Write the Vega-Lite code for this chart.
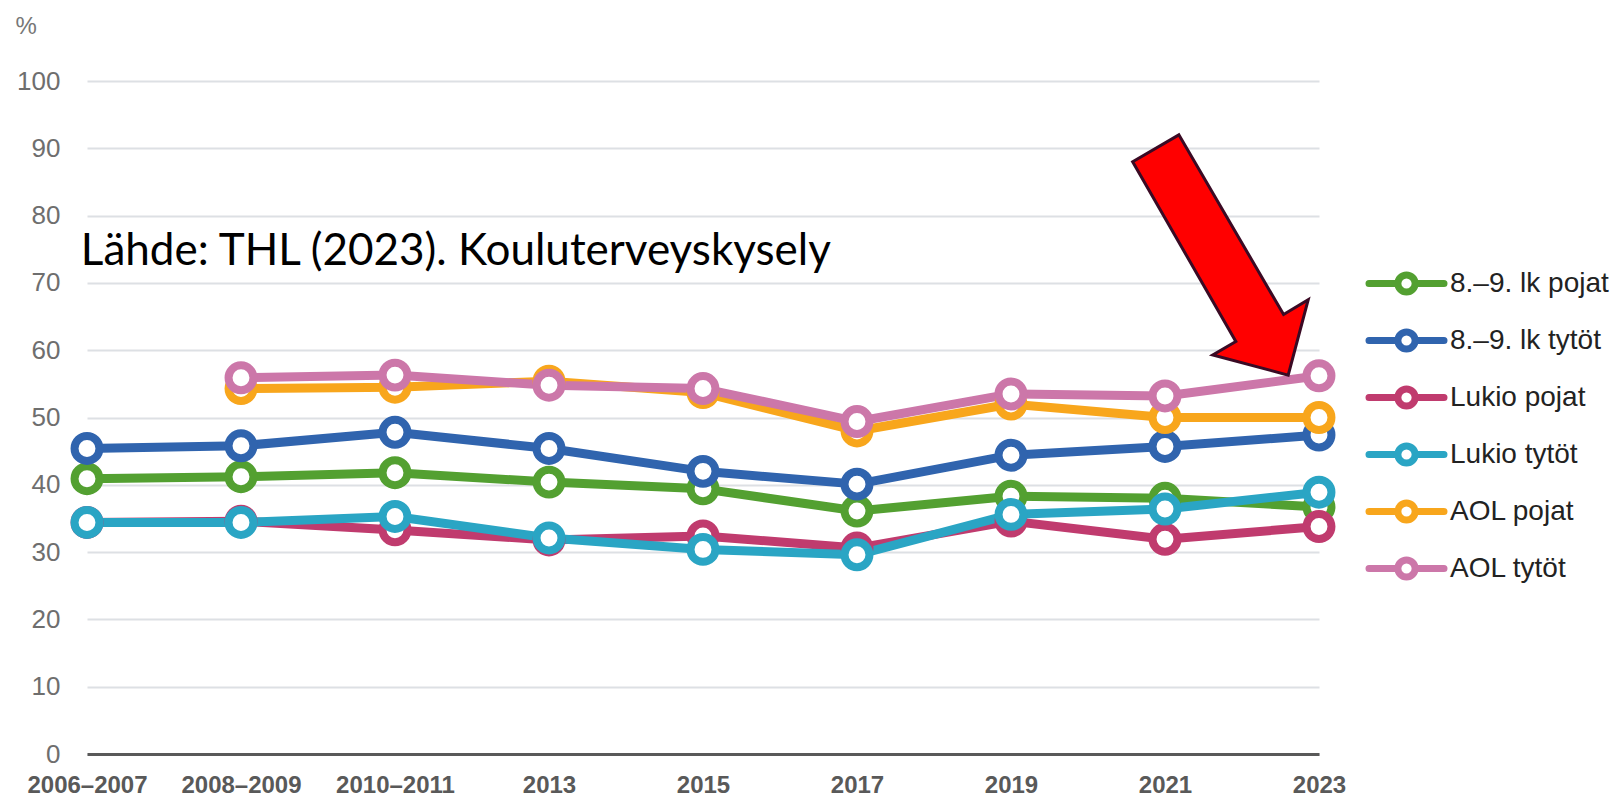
{
  "$schema": "https://vega.github.io/schema/vega-lite/v6.json",
  "width": 1232,
  "height": 673,
  "autosize": {"type": "none"},
  "padding": {"left": 87, "top": 81, "right": 305, "bottom": 42},
  "background": "white",
  "config": {
    "view": {"stroke": null},
    "font": "Liberation Sans"
  },
  "datasets": {
    "main": [
      {"period": "2006–2007", "series": "8.–9. lk pojat", "value": 40.9},
      {"period": "2008–2009", "series": "8.–9. lk pojat", "value": 41.2},
      {"period": "2010–2011", "series": "8.–9. lk pojat", "value": 41.8},
      {"period": "2013", "series": "8.–9. lk pojat", "value": 40.4},
      {"period": "2015", "series": "8.–9. lk pojat", "value": 39.4},
      {"period": "2017", "series": "8.–9. lk pojat", "value": 36.1},
      {"period": "2019", "series": "8.–9. lk pojat", "value": 38.3},
      {"period": "2021", "series": "8.–9. lk pojat", "value": 38.0},
      {"period": "2023", "series": "8.–9. lk pojat", "value": 36.7},
      {"period": "2006–2007", "series": "8.–9. lk tytöt", "value": 45.4},
      {"period": "2008–2009", "series": "8.–9. lk tytöt", "value": 45.8},
      {"period": "2010–2011", "series": "8.–9. lk tytöt", "value": 47.8},
      {"period": "2013", "series": "8.–9. lk tytöt", "value": 45.4},
      {"period": "2015", "series": "8.–9. lk tytöt", "value": 42.0},
      {"period": "2017", "series": "8.–9. lk tytöt", "value": 40.1},
      {"period": "2019", "series": "8.–9. lk tytöt", "value": 44.4},
      {"period": "2021", "series": "8.–9. lk tytöt", "value": 45.7},
      {"period": "2023", "series": "8.–9. lk tytöt", "value": 47.4},
      {"period": "2006–2007", "series": "Lukio pojat", "value": 34.4},
      {"period": "2008–2009", "series": "Lukio pojat", "value": 34.6},
      {"period": "2010–2011", "series": "Lukio pojat", "value": 33.3},
      {"period": "2013", "series": "Lukio pojat", "value": 31.8},
      {"period": "2015", "series": "Lukio pojat", "value": 32.4},
      {"period": "2017", "series": "Lukio pojat", "value": 30.6},
      {"period": "2019", "series": "Lukio pojat", "value": 34.6},
      {"period": "2021", "series": "Lukio pojat", "value": 31.9},
      {"period": "2023", "series": "Lukio pojat", "value": 33.8},
      {"period": "2006–2007", "series": "Lukio tytöt", "value": 34.4},
      {"period": "2008–2009", "series": "Lukio tytöt", "value": 34.4},
      {"period": "2010–2011", "series": "Lukio tytöt", "value": 35.3},
      {"period": "2013", "series": "Lukio tytöt", "value": 32.1},
      {"period": "2015", "series": "Lukio tytöt", "value": 30.4},
      {"period": "2017", "series": "Lukio tytöt", "value": 29.6},
      {"period": "2019", "series": "Lukio tytöt", "value": 35.6},
      {"period": "2021", "series": "Lukio tytöt", "value": 36.4},
      {"period": "2023", "series": "Lukio tytöt", "value": 38.9},
      {"period": "2008–2009", "series": "AOL pojat", "value": 54.3},
      {"period": "2010–2011", "series": "AOL pojat", "value": 54.5},
      {"period": "2013", "series": "AOL pojat", "value": 55.4},
      {"period": "2015", "series": "AOL pojat", "value": 53.7},
      {"period": "2017", "series": "AOL pojat", "value": 48.0},
      {"period": "2019", "series": "AOL pojat", "value": 52.0},
      {"period": "2021", "series": "AOL pojat", "value": 50.0},
      {"period": "2023", "series": "AOL pojat", "value": 50.0},
      {"period": "2008–2009", "series": "AOL tytöt", "value": 55.9},
      {"period": "2010–2011", "series": "AOL tytöt", "value": 56.3},
      {"period": "2013", "series": "AOL tytöt", "value": 54.8},
      {"period": "2015", "series": "AOL tytöt", "value": 54.3},
      {"period": "2017", "series": "AOL tytöt", "value": 49.4},
      {"period": "2019", "series": "AOL tytöt", "value": 53.5},
      {"period": "2021", "series": "AOL tytöt", "value": 53.2},
      {"period": "2023", "series": "AOL tytöt", "value": 56.2}
    ],
    "arrow": [
      {"i": 1, "ax": 6.79, "ay": 88.0},
      {"i": 2, "ax": 7.09, "ay": 92.0},
      {"i": 3, "ax": 7.77, "ay": 65.3},
      {"i": 4, "ax": 7.93, "ay": 67.5},
      {"i": 5, "ax": 7.80, "ay": 56.3},
      {"i": 6, "ax": 7.31, "ay": 59.3},
      {"i": 7, "ax": 7.46, "ay": 61.3}
    ],
    "note": [
      {"ax": -0.04, "ay": 72.7, "label": "Lähde: THL (2023). Kouluterveyskysely"}
    ]
  },
  "resolve": {"scale": {"x": "independent"}},
  "layer": [
    {
      "data": {"name": "main"},
      "mark": {"type": "line", "strokeWidth": 9, "strokeJoin": "round", "strokeCap": "round"},
      "encoding": {
        "x": {
          "field": "period", "type": "ordinal", "sort": null,
          "scale": {"type": "point", "padding": 0},
          "axis": {
            "title": null, "domainColor": "#595959", "domainWidth": 3, "ticks": false,
            "labelFont": "Liberation Sans", "labelFontWeight": "bold", "labelFontSize": 24,
            "labelColor": "#595959", "labelPadding": 19, "labelAngle": 0, "grid": false
          }
        },
        "y": {
          "field": "value", "type": "quantitative",
          "scale": {"domain": [0, 100], "nice": false},
          "axis": {
            "values": [0, 10, 20, 30, 40, 50, 60, 70, 80, 90, 100],
            "title": "%", "titleAngle": 0, "titleFontWeight": "normal", "titleFontSize": 24,
            "titleColor": "#777777", "titleAlign": "left", "titleBaseline": "middle",
            "titleX": -72, "titleY": -55,
            "domain": false, "ticks": false, "labelFontSize": 26, "labelColor": "#6e6e6e",
            "labelPadding": 27, "gridColor": "#dde0e4", "gridWidth": 2
          }
        },
        "color": {
          "field": "series", "type": "nominal",
          "scale": {
            "domain": ["8.–9. lk pojat", "8.–9. lk tytöt", "Lukio pojat", "Lukio tytöt", "AOL pojat", "AOL tytöt"],
            "range": ["#53a031", "#3064ae", "#c03b6e", "#2aa5c4", "#f8a61c", "#cc77a9"]
          },
          "legend": {
            "title": null, "orient": "none", "legendX": 1297, "legendY": 180,
            "symbolType": "M-2,0L-0.46,0M0.46,0L2,0M0.46,0A0.46,0.46,0,1,1,-0.46,0A0.46,0.46,0,1,1,0.46,0Z",
            "symbolSize": 1406, "symbolStrokeWidth": 7, "labelOffset": 21,
            "labelFontSize": 28, "labelColor": "#222222", "rowPadding": 10, "padding": 0,
            "encode": {"symbols": {"update": {"fill": {"value": "white"}, "strokeCap": {"value": "round"}, "opacity": {"value": 1}}}}
          }
        }
      }
    },
    {
      "data": {"name": "main"},
      "mark": {"type": "point", "shape": "circle", "filled": false, "fill": "white", "fillOpacity": 1, "opacity": 1, "size": 620, "strokeWidth": 8},
      "encoding": {
        "x": {"field": "period", "type": "ordinal", "sort": null, "scale": {"type": "point", "padding": 0}, "axis": null},
        "y": {"field": "value", "type": "quantitative", "scale": {"domain": [0, 100], "nice": false}},
        "color": {"field": "series", "type": "nominal", "legend": null}
      }
    },
    {
      "data": {"name": "arrow"},
      "mark": {"type": "line", "interpolate": "linear-closed", "fill": "#ff0000", "stroke": "#3a0a24", "strokeWidth": 3, "strokeJoin": "miter"},
      "encoding": {
        "x": {"field": "ax", "type": "quantitative", "scale": {"domain": [0, 8], "nice": false, "zero": false}, "axis": null},
        "y": {"field": "ay", "type": "quantitative", "scale": {"domain": [0, 100], "nice": false}},
        "order": {"field": "i", "type": "quantitative"}
      }
    },
    {
      "data": {"name": "note"},
      "mark": {"type": "text", "align": "left", "baseline": "alphabetic", "font": "Lato", "fontSize": 44, "color": "#000000"},
      "encoding": {
        "x": {"field": "ax", "type": "quantitative", "scale": {"domain": [0, 8], "nice": false, "zero": false}, "axis": null},
        "y": {"field": "ay", "type": "quantitative", "scale": {"domain": [0, 100], "nice": false}},
        "text": {"field": "label"}
      }
    }
  ]
}
